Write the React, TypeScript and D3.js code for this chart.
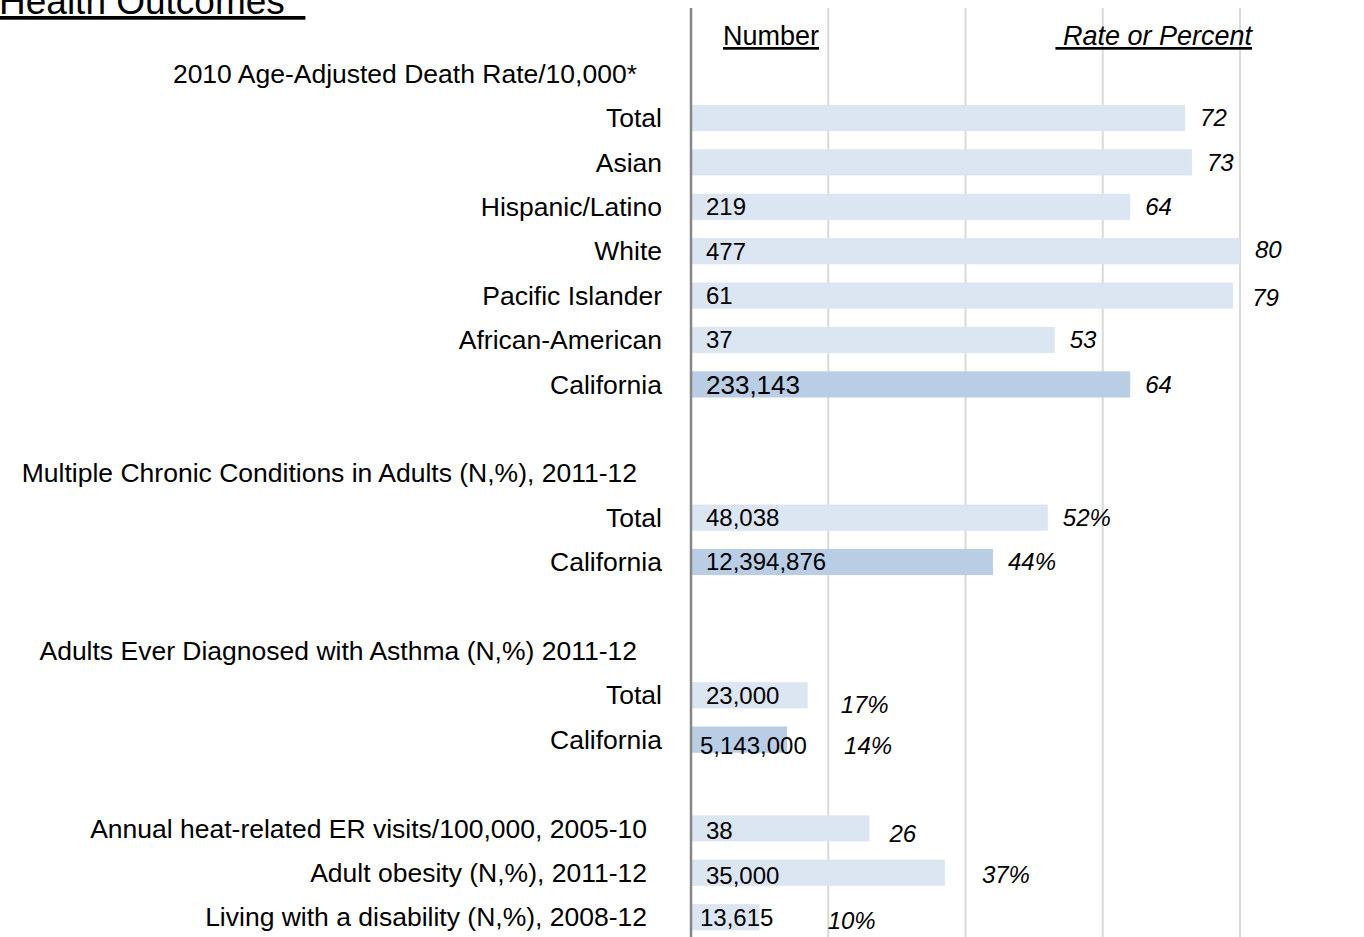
import * as React from 'react';
import * as d3 from 'd3';

// rows of the chart, top to bottom (section titles and blank spacer rows included)
const rowLabels = [
  '2010 Age-Adjusted Death Rate/10,000*',
  'Total', 'Asian', 'Hispanic/Latino', 'White', 'Pacific Islander', 'African-American', 'California',
  '',
  'Multiple Chronic Conditions in Adults (N,%), 2011-12',
  'Total', 'California',
  '',
  'Adults Ever Diagnosed with Asthma (N,%) 2011-12',
  'Total', 'California',
  '',
  'Annual heat-related ER visits/100,000, 2005-10',
  'Adult obesity (N,%), 2011-12',
  'Living with a disability (N,%), 2008-12',
];
const rowKinds = [
  'title', 'cat', 'cat', 'cat', 'cat', 'cat', 'cat', 'cat',
  'blank', 'title', 'cat', 'cat',
  'blank', 'title', 'cat', 'cat',
  'blank', 'item', 'item', 'item',
];
const rateValues = [null, 72, 73, 64, 80, 79, 53, 64, null, null, 52, 44, null, null, 17, 14, null, 26, 37, 10];
const rateLabels = ['', '72', '73', '64', '80', '79', '53', '64', '', '', '52%', '44%', '', '', '17%', '14%', '', '26', '37%', '10%'];
const numberLabels = ['', '', '', '219', '477', '61', '37', '233,143', '', '', '48,038', '12,394,876', '', '', '23,000', '5,143,000', '', '38', '35,000', '13,615'];
const gridTicks = [20, 40, 60, 80];

// manual label nudges like in the original workbook
const rateNudge = {4: [0, -2], 5: [4, 2], 14: [18, 9], 15: [42, 6], 17: [5, 5], 18: [22, 2], 19: [53, 3]};
const numberNudge = {15: [-6, 6], 18: [0, 3], 19: [-6, 0], 17: [0, 2]};

const width = 1364;
const height = 937;
const labelFont = 'Liberation Sans, Arial, sans-serif';

export default function App() {
  const x = d3.scaleLinear().domain([0, 80]).range([691, 1240]);
  const y = d3.scaleBand<number>()
    .domain(rowLabels.map((_, i) => i))
    .range([51.4, 939.4])
    .paddingInner(0.41)
    .paddingOuter(0.205);
  const bw = y.bandwidth();

  const labelEnd = {title: 637, cat: 662, item: 647, blank: 662};

  return (
    <svg width={width} height={height} style={{position: 'absolute', left: 0, top: 0, background: '#fff'}}
      fontFamily={labelFont}>
      {/* gridlines */}
      {gridTicks.map((t) => (
        <line key={t} x1={x(t)} x2={x(t)} y1={8} y2={height} stroke="#d9d9d9" strokeWidth={2} />
      ))}

      {/* bars */}
      {rateValues.map((v, i) => v == null ? null : (
        <rect key={i} x={x(0) + 1} y={y(i)} width={x(v) - x(0) - 1} height={bw}
          fill={rowLabels[i] === 'California' ? '#b9cde5' : '#dce6f2'} />
      ))}

      {/* axis */}
      <line x1={x(0)} x2={x(0)} y1={8} y2={height} stroke="#868686" strokeWidth={2.5} />

      {/* category labels */}
      {rowLabels.map((l, i) => (
        <text key={i} x={labelEnd[rowKinds[i]]} y={y(i) + bw / 2} dy="0.35em" textAnchor="end"
          fontSize={26.5} fill="#000">{l}</text>
      ))}

      {/* number labels */}
      {numberLabels.map((l, i) => {
        if (!l) return null;
        const n = numberNudge[i] || [0, 0];
        return (
          <text key={i} x={x(0) + 15 + n[0]} y={y(i) + bw / 2 + n[1]} dy="0.35em"
            fontSize={i === 7 ? 26 : 24} fill="#000">{l}</text>
        );
      })}

      {/* rate labels */}
      {rateValues.map((v, i) => {
        if (v == null) return null;
        const n = rateNudge[i] || [0, 0];
        return (
          <text key={i} x={x(v) + 15 + n[0]} y={y(i) + bw / 2 + n[1]} dy="0.35em"
            fontSize={24} fontStyle="italic" fill="#000">{rateLabels[i]}</text>
        );
      })}

      {/* headers */}
      <text x={-1} y={14} fontSize={37} fill="#000" textDecoration="underline"
        style={{whiteSpace: 'pre'}}>{'Health Outcomes  '}</text>
      <text x={723} y={45} fontSize={27} fill="#000" textDecoration="underline">Number</text>
      <text x={1252} y={45} fontSize={27} fill="#000" fontStyle="italic" textAnchor="end"
        textDecoration="underline" style={{whiteSpace: 'pre'}}>{' Rate or Percent'}</text>
    </svg>
  );
}
